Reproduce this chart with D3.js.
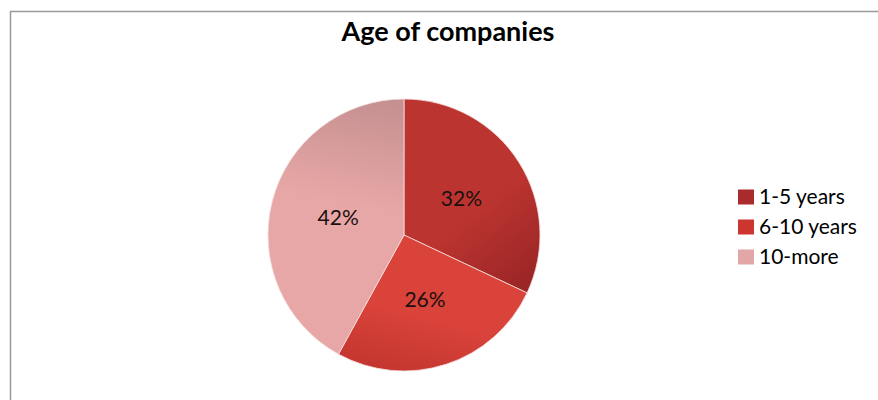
<!DOCTYPE html>
<html>
<head>
<meta charset="utf-8">
<script src="https://cdn.jsdelivr.net/npm/d3@7"></script>
<style>
  html, body { margin: 0; padding: 0; background: #ffffff; }
  svg { display: block; }
</style>
</head>
<body>
<svg id="chart" width="878" height="400"></svg>
<script>
// Share of companies by age
const categories = ["1-5 years", "6-10 years", "10-more"];
const shares = [32, 26, 42];
const baseColors = ["#bc3430", "#da433a", "#e8a7a7"];
const shadeColors = ["#962424", "#c3362f", "#c48f8f"];
const swatchColors = ["#aa2b2b", "#cd3531", "#e3a6a6"];

const svg = d3.select("#chart");
const font = "Lato, 'Open Sans', sans-serif";

// Chart frame
svg.append("path")
  .attr("d", "M10.5,400 L10.5,11.5 L878,11.5")
  .attr("fill", "none")
  .attr("stroke", "#9a9a9a")
  .attr("stroke-width", 1.5);

// Title
svg.append("text")
  .attr("x", 448)
  .attr("y", 41)
  .attr("text-anchor", "middle")
  .attr("font-family", font)
  .attr("font-weight", "bold")
  .attr("font-size", 27)
  .attr("fill", "#000")
  .text("Age of companies");

const cx = 404, cy = 235, r = 136;

// Shading direction for each slice, relative to the pie centre (start -> end, in radius units)
const shadeDirs = [
  [[-0.1, -0.9], [0.95, 0.45]],
  [[0.1, 0.0], [-0.15, 1.0]],
  [[-0.4, 0.8], [-0.05, -1.0]]
];

const defs = svg.append("defs");
categories.forEach((c, i) => {
  const [a, b] = shadeDirs[i];
  const g = defs.append("linearGradient")
    .attr("id", "grad" + i)
    .attr("gradientUnits", "userSpaceOnUse")
    .attr("x1", a[0] * r).attr("y1", a[1] * r)
    .attr("x2", b[0] * r).attr("y2", b[1] * r);
  g.append("stop").attr("offset", "0%").attr("stop-color", baseColors[i]);
  g.append("stop").attr("offset", "55%").attr("stop-color", baseColors[i]);
  g.append("stop").attr("offset", "100%").attr("stop-color", shadeColors[i]);
});

const pie = d3.pie().sort(null).value(d => d);
const arcs = pie(shares);
const arc = d3.arc().innerRadius(0).outerRadius(r);

const g = svg.append("g").attr("transform", `translate(${cx},${cy})`);

g.selectAll("path.slice")
  .data(arcs)
  .join("path")
  .attr("class", "slice")
  .attr("d", arc)
  .attr("fill", (d, i) => `url(#grad${i})`)
  .attr("stroke", "#f4dede")
  .attr("stroke-width", 0.8);

g.selectAll("text.lbl")
  .data(arcs)
  .join("text")
  .attr("class", "lbl")
  .attr("transform", d => `translate(${arc.centroid(d)})`)
  .attr("text-anchor", "middle")
  .attr("dy", "0.35em")
  .attr("font-family", font)
  .attr("font-size", 21)
  .attr("fill", "#1a1010")
  .text(d => d.data + "%");

// Legend
const legend = svg.append("g").attr("transform", "translate(738,197)");
const item = legend.selectAll("g")
  .data(categories)
  .join("g")
  .attr("transform", (d, i) => `translate(0,${i * 30})`);

item.append("rect")
  .attr("x", 0).attr("y", -7.5)
  .attr("width", 16).attr("height", 15)
  .attr("fill", (d, i) => swatchColors[i]);

item.append("text")
  .attr("x", 21)
  .attr("y", 0)
  .attr("dy", "0.35em")
  .attr("font-family", font)
  .attr("font-size", 21)
  .attr("fill", "#000")
  .text(d => d);
</script>
</body>
</html>
